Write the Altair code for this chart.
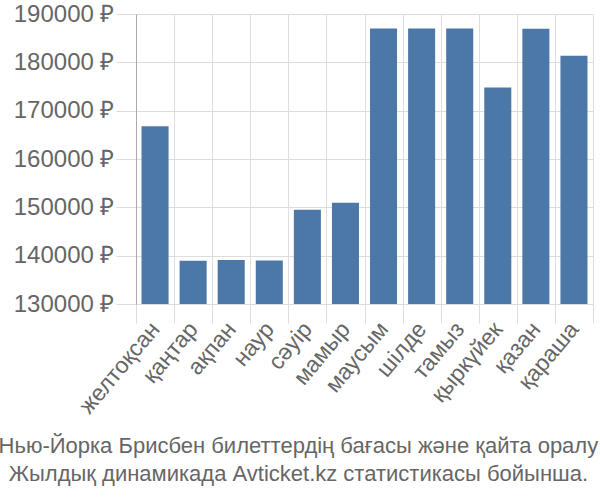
import altair as alt
import pandas as pd

months = ["желтоқсан", "қаңтар", "ақпан", "наур", "сәуір", "мамыр",
          "маусым", "шілде", "тамыз", "қыркүйек", "қазан", "қараша"]
prices = [166800, 138950, 139100, 139000, 149500, 150950,
          187000, 187000, 187000, 174800, 186950, 181350]

df = pd.DataFrame({"month": months, "price": prices})

chart = alt.Chart(df).mark_bar(color="#4c78a8", width=alt.RelativeBandSize(0.71), clip=True).encode(
    x=alt.X("month:N", sort=months, title=None,
            scale=alt.Scale(paddingInner=0, paddingOuter=0),
            axis=alt.Axis(labelAngle=-50, labelFontSize=23, labelColor="#666",
                          labelFont="Liberation Sans", tickBand="extent",
                          tickSize=19, tickColor="#ddd", domain=False,
                          grid=True, gridColor="#ddd", labelPadding=2)),
    y=alt.Y("price:Q", title=None,
            scale=alt.Scale(domain=[130000, 190000], nice=False, zero=False),
            axis=alt.Axis(values=[130000, 140000, 150000, 160000, 170000, 180000, 190000],
                          labelExpr="datum.value + ' ₽'", labelFontSize=24,
                          labelColor="#666", labelFont="Liberation Sans",
                          tickColor="#ddd", tickSize=20, gridColor="#ddd",
                          domainColor="#aaa", labelPadding=2)),
).properties(
    width=457, height=290,
    padding={"left": 136, "top": 14, "right": 7, "bottom": 196},
    autosize=alt.AutoSizeParams(type="none"),
    title=alt.TitleParams(
        text=["Нью-Йорка Брисбен билеттердің бағасы және қайта оралу",
              "Жылдық динамикада Avticket.kz статистикасы бойынша."],
        orient="bottom", anchor="middle", frame="bounds",
        fontSize=22, fontWeight="normal", color="#666",
        font="Liberation Sans", lineHeight=28, offset=18, dx=-5),
).configure_view(stroke=None)

chart.save("out.html", embed_options={"renderer": "svg", "actions": False})
